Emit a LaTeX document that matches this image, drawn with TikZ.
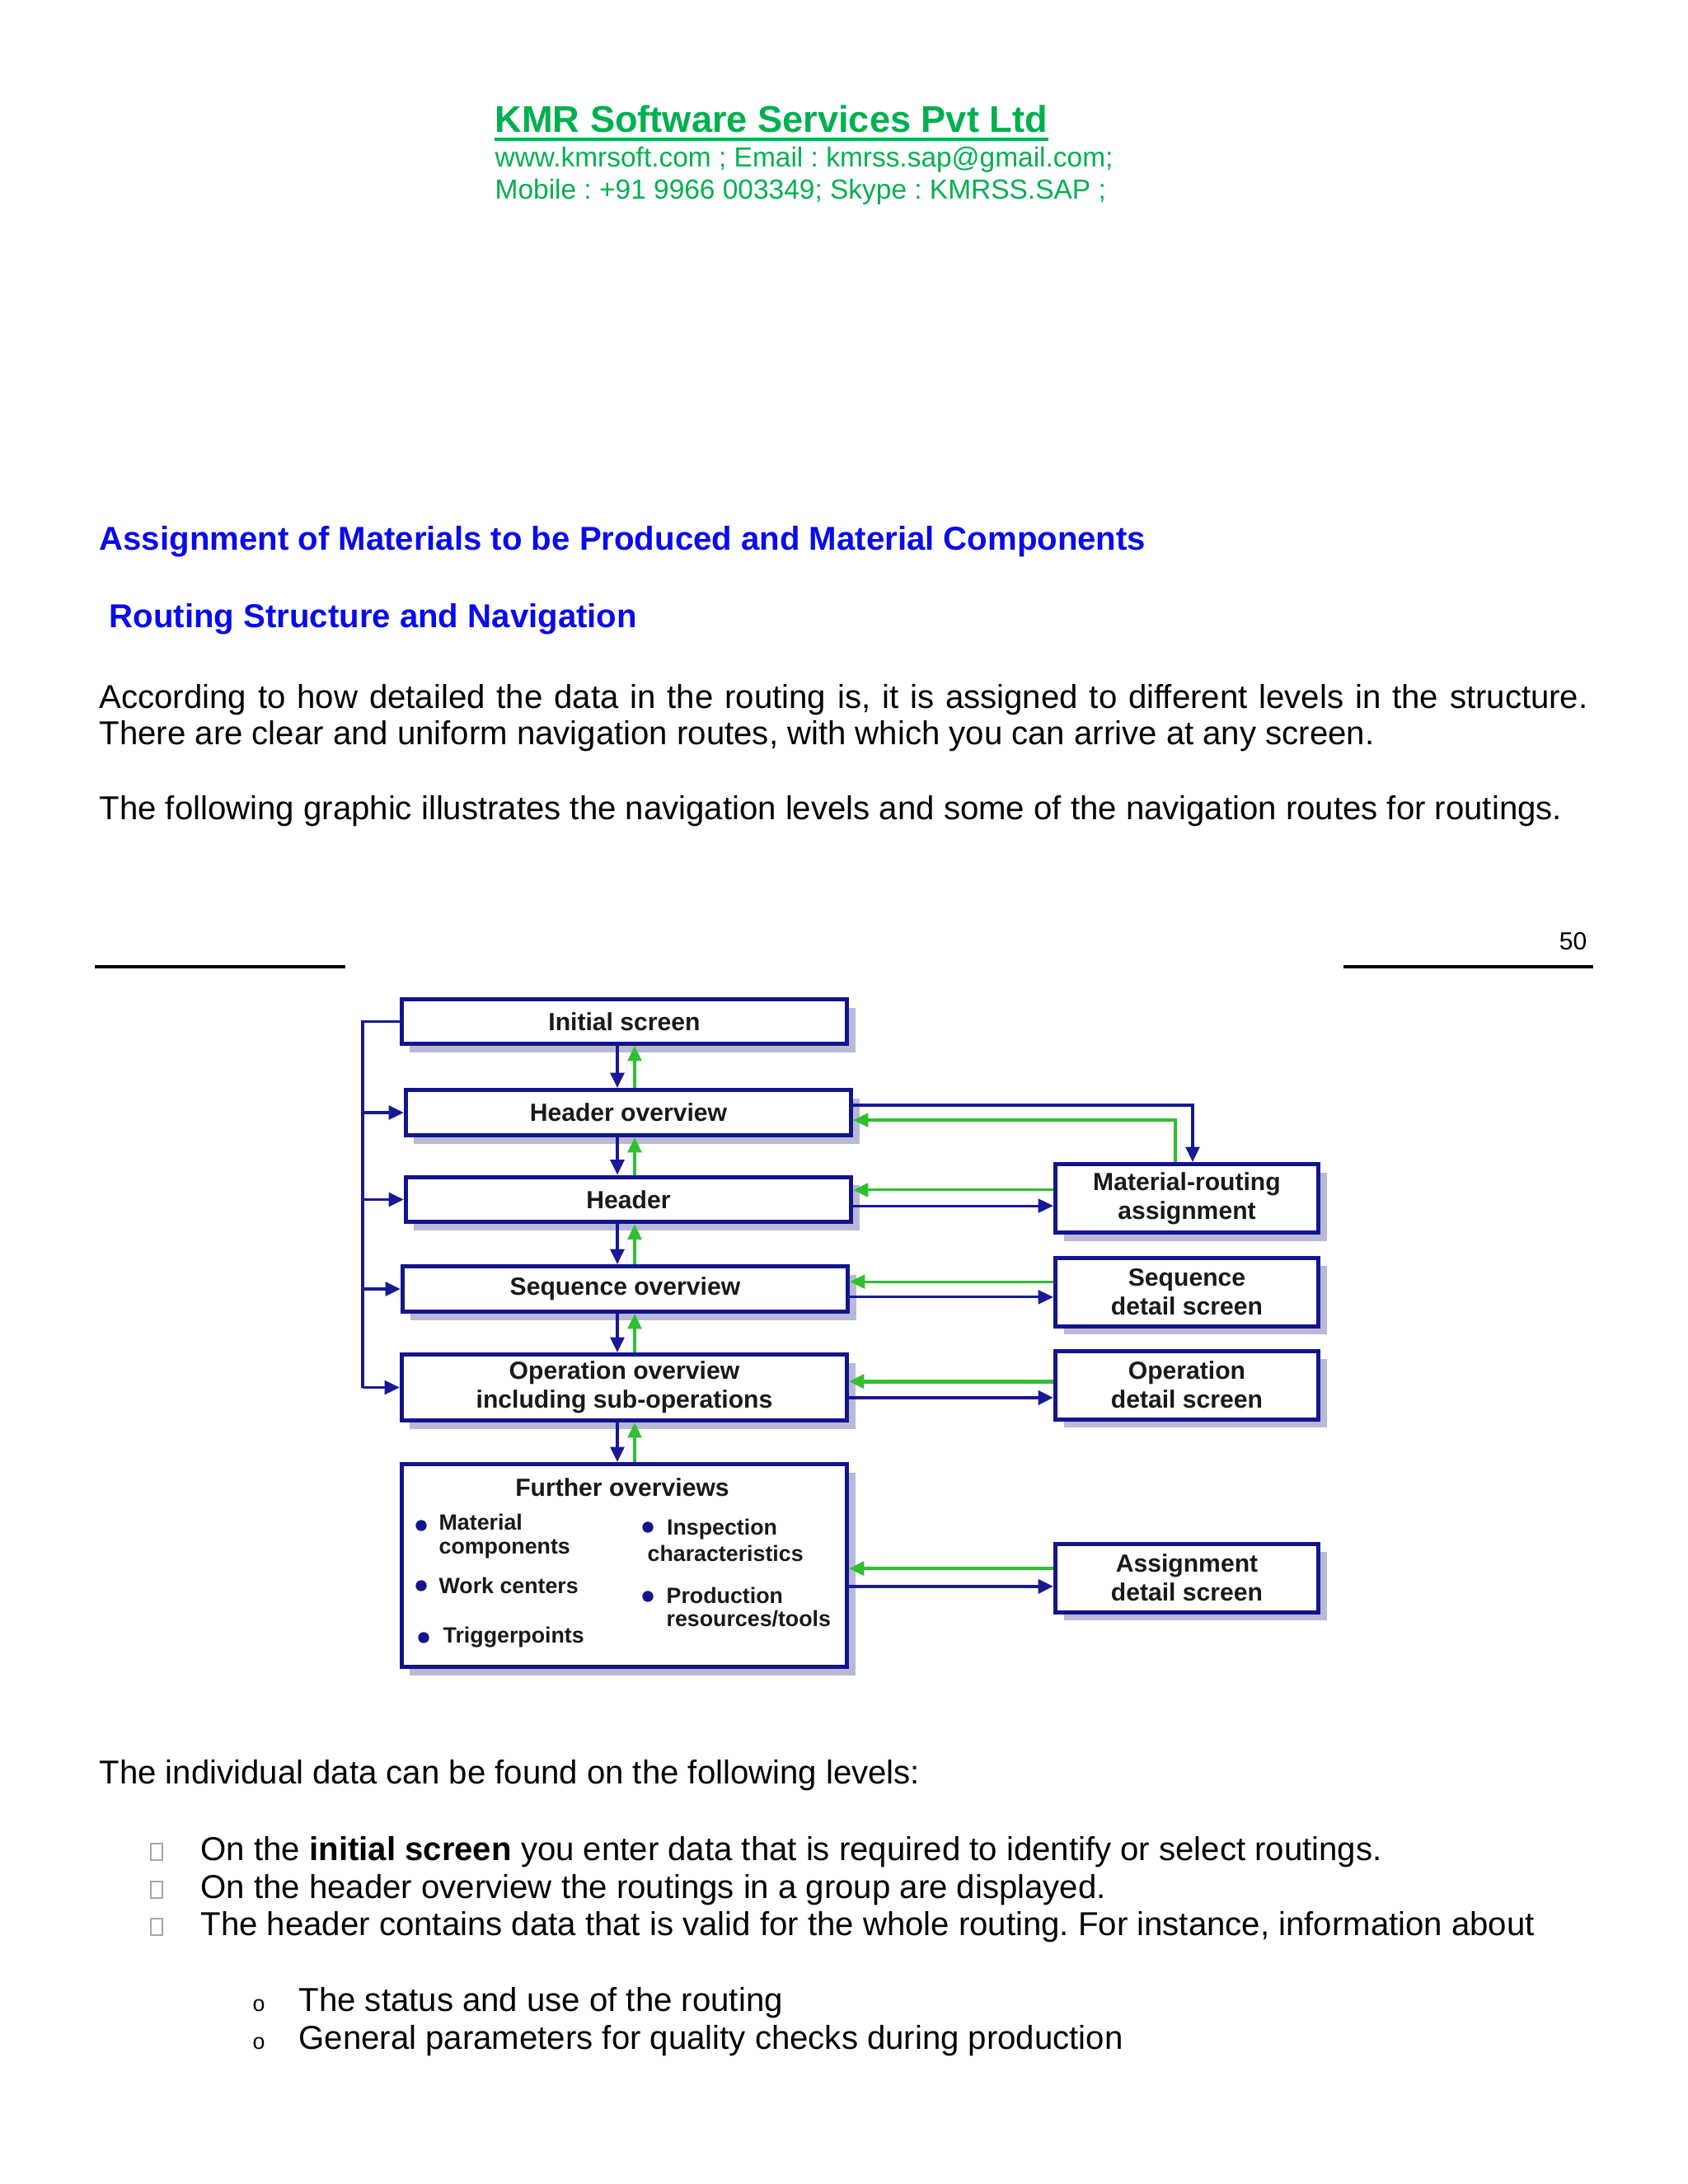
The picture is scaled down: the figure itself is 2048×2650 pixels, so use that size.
\documentclass[tikz,border=0pt]{standalone}
\usepackage{fontspec}
\setmainfont{Liberation Sans}
\usepackage{xcolor}
\usepackage{tikz}
\usetikzlibrary{arrows.meta,shadows}
\frenchspacing

\definecolor{kmrgreen}{RGB}{0,176,80}
\definecolor{headblue}{RGB}{10,10,235}
\definecolor{boxnavy}{RGB}{20,20,140}
\definecolor{linknavy}{RGB}{25,25,150}
\definecolor{linkgreen}{RGB}{50,190,50}
\definecolor{shadowgray}{RGB}{185,185,215}

\begin{document}
\begin{tikzpicture}[x=0.29883pt,y=-0.29883pt,
      txt/.style={anchor=base west,inner sep=0pt,font=\fontsize{12}{14}\selectfont},
      hd/.style={txt,font=\fontsize{12}{14}\selectfont\bfseries,text=headblue},
      info/.style={txt,font=\fontsize{10}{12}\selectfont,text=kmrgreen},
      scr/.style={draw=boxnavy,line width=1.5pt,fill=white,inner sep=0pt,
        minimum width=161.4pt,minimum height=16.4pt,align=center,text=black!90,
        font=\fontsize{9}{10.5}\selectfont\bfseries,
        drop shadow={shadow xshift=3pt,shadow yshift=-3pt,fill=shadowgray,opacity=1}},
      det/.style={scr,minimum width=95.3pt,minimum height=24.8pt},
      listitem/.style={anchor=west,inner sep=0pt,align=left,text=black!90,
        font=\fontsize{8}{8.5}\selectfont\bfseries},
      bulletdot/.style={circle,fill=boxnavy,inner sep=0pt,minimum size=4pt},
      navyarr/.style={linknavy,line width=1.1pt,-{Triangle[length=5.5pt,width=5pt]}},
      greenarr/.style={linkgreen,line width=1pt,-{Triangle[length=5.5pt,width=5pt]}},
      sq/.style={draw=gray!70,line width=0.5pt,inner sep=0pt,minimum width=4pt,minimum height=6pt}]
    \useasboundingbox (0,0) rectangle (2048,2650);
    \fill[white] (0,0) rectangle (2048,2650);

    % letterhead
    \node[txt,font=\fontsize{13.5}{16}\selectfont\bfseries,text=kmrgreen] (firm) at (600,160) {KMR Software Services Pvt Ltd};
    \draw[kmrgreen,line width=1.2pt] ([yshift=-2.6pt]firm.base west) -- ([yshift=-2.6pt]firm.base east);
    \node[info] (web) at (600,202) {www.kmrsoft.com ; Email : kmrss.sap@gmail.com;};
    \node[info] (phone) at (600,241) {Mobile : +91 9966 003349; Skype : KMRSS.SAP ;};

    % headings and intro
    \node[hd] (h1) at (120,667) {Assignment of Materials to be Produced and Material Components};
    \node[hd] (h2) at (132,761) {Routing Structure and Navigation};
    \node[txt] (p1) at (120,859) {\makebox[539.7pt][s]{According to how detailed the data in the routing is, it is assigned to different levels in the structure.}};
    \node[txt] (p2) at (120,903) {There are clear and uniform navigation routes, with which you can arrive at any screen.};
    \node[txt] (p3) at (120,994) {The following graphic illustrates the navigation levels and some of the navigation routes for routings.};

    % page number and rules
    \node[txt,anchor=base east,font=\fontsize{9}{11}\selectfont] (pg) at (1926,1152) {50};
    \draw[line width=1pt] (115,1173) -- (419,1173);
    \draw[line width=1pt] (1630,1173) -- (1933,1173);

    % screens
    \node[scr,minimum height=16.1pt] (init) at (757.5,1239.5) {Initial screen};
    \node[scr] (hov) at (762.5,1350) {Header overview};
    \node[scr] (hdr) at (762.5,1455.5) {Header};
    \node[scr] (sov) at (758.5,1564) {Sequence overview};
    \node[scr,minimum height=23.9pt] (oov) at (757.5,1683.5) {Operation overview\\including sub-operations};
    \node[scr,minimum height=73.5pt] (fov) at (757.5,1899.5) {};
    \node[det] (mra) at (1440,1454) {Material-routing\\assignment};
    \node[det] (sds) at (1440,1567.5) {Sequence\\detail screen};
    \node[det] (ods) at (1440,1680.5) {Operation\\detail screen};
    \node[det] (ads) at (1440,1914.5) {Assignment\\detail screen};

    % further overviews contents
    \node[inner sep=0pt,text=black!90,font=\fontsize{9}{10.5}\selectfont\bfseries] (fovt) at (755,1805) {Further overviews};
    \node[bulletdot] (d1) at (511,1851) {};
    \node[listitem] (i1) at (532,1864) {Material\\components};
    \node[bulletdot] (d2) at (511,1924) {};
    \node[listitem] (i2) at (532,1924) {Work centers};
    \node[bulletdot] (d3) at (514,1987) {};
    \node[listitem] (i3) at (537,1987) {Triggerpoints};
    \node[bulletdot] (d4) at (786,1853) {};
    \node[listitem] (i4) at (785,1869) {\hspace*{7pt}Inspection\\[1pt]characteristics};
    \node[bulletdot] (d5) at (786,1937) {};
    \node[listitem] (i5) at (808,1950) {Production\\resources/tools};

    % navigation routes
    \coordinate (bus) at (440,0);
    \coordinate (dn) at (749,0);
    \coordinate (up) at (770,0);
    \coordinate (kb) at (1447,0);
    \coordinate (kg) at (1426,0);
    \draw[linknavy,line width=1pt] (init.west) -- (init.west -| bus) -- (oov.west -| bus);
    \foreach \n in {hov,hdr,sov,oov}
      \draw[navyarr] (\n.west -| bus) -- (\n.west);
    \foreach \a/\b in {init/hov,hov/hdr,hdr/sov,sov/oov,oov/fov} {
      \draw[navyarr] (\a.south -| dn) -- (\b.north -| dn);
      \draw[greenarr] (\b.north -| up) -- (\a.south -| up);
    }
    \draw[navyarr,line width=1pt] ([yshift=2.7pt]hov.east) -| (mra.north -| kb);
    \draw[greenarr] (mra.north -| kg) |- ([yshift=-2.7pt]hov.east);
    \foreach \l/\r/\g/\b/\w in {hdr/mra/3pt/-2.7pt/0.9pt,sov/sds/3.7pt/-1.9pt/0.9pt,
                                oov/ods/1.3pt/-4.6pt/1.4pt,fov/ads/3.4pt/-3.1pt/1.3pt} {
      \draw[greenarr,line width=\w] ([yshift=\g]\r.west) -- ([yshift=\g]\r.west -| \l.east);
      \draw[navyarr,line width=\w] ([yshift=\b]\r.west -| \l.east) -- ([yshift=\b]\r.west);
    }

    % levels
    \node[txt] (lv) at (120,2164) {The individual data can be found on the following levels:};
    \node[sq] (s1) at (190,2247) {};
    \node[txt] (l1) at (243,2257) {On the \textbf{initial screen} you enter data that is required to identify or select routings.};
    \node[sq] (s2) at (190,2293) {};
    \node[txt] (l2) at (243,2303) {On the header overview the routings in a group are displayed.};
    \node[sq] (s3) at (190,2338) {};
    \node[txt] (l3) at (243,2348) {The header contains data that is valid for the whole routing. For instance, information about};
    \node[txt,font=\fontsize{8}{9}\selectfont] (o1) at (306,2440) {o};
    \node[txt] (m1) at (362,2440) {The status and use of the routing};
    \node[txt,font=\fontsize{8}{9}\selectfont] (o2) at (306,2486) {o};
    \node[txt] (m2) at (362,2486) {General parameters for quality checks during production};
\end{tikzpicture}
\end{document}
